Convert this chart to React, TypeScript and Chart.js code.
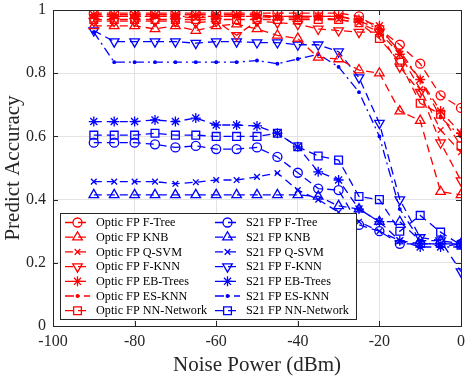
import React, { useEffect, useRef } from 'react';
import { Chart, registerables } from 'chart.js';
import { drawPoint } from 'chart.js/helpers';

Chart.register(...registerables);

// ---------- data ----------
const noisePower = [-90, -85, -80, -75, -70, -65, -60, -55, -50, -45, -40, -35, -30, -25, -20, -15, -10, -5, 0];

const opticFTree = [0.99, 0.99, 0.99, 0.99, 0.99, 0.99, 0.99, 0.99, 0.99, 0.99, 0.99, 0.99, 0.99, 0.98, 0.94, 0.89, 0.83, 0.73, 0.69];
const opticKNB = [0.95, 0.95, 0.95, 0.94, 0.95, 0.935, 0.95, 0.955, 0.94, 0.92, 0.91, 0.85, 0.845, 0.81, 0.8, 0.68, 0.65, 0.425, 0.415];
const opticQSVM = [0.98, 0.98, 0.98, 0.98, 0.98, 0.975, 0.98, 0.98, 0.98, 0.975, 0.975, 0.975, 0.97, 0.96, 0.93, 0.86, 0.75, 0.62, 0.55];
const opticFKNN = [0.965, 0.965, 0.965, 0.965, 0.965, 0.96, 0.965, 0.92, 0.965, 0.96, 0.955, 0.94, 0.935, 0.93, 0.93, 0.82, 0.74, 0.58, 0.46];
const opticEBTrees = [0.985, 0.985, 0.985, 0.985, 0.985, 0.985, 0.985, 0.985, 0.985, 0.98, 0.98, 0.98, 0.98, 0.97, 0.95, 0.86, 0.78, 0.68, 0.61];
const opticESKNN = [0.98, 0.98, 0.98, 0.98, 0.98, 0.98, 0.98, 0.98, 0.98, 0.98, 0.98, 0.98, 0.98, 0.965, 0.94, 0.87, 0.78, 0.66, 0.6];
const opticNNNetwork = [0.97, 0.97, 0.97, 0.97, 0.97, 0.97, 0.97, 0.97, 0.97, 0.97, 0.97, 0.97, 0.97, 0.96, 0.91, 0.835, 0.705, 0.67, 0.57];

const s21FTree = [0.58, 0.58, 0.58, 0.575, 0.565, 0.57, 0.56, 0.56, 0.565, 0.535, 0.485, 0.435, 0.43, 0.32, 0.3, 0.26, 0.26, 0.26, 0.26];
const s21KNB = [0.415, 0.415, 0.415, 0.415, 0.415, 0.415, 0.415, 0.415, 0.415, 0.415, 0.415, 0.41, 0.38, 0.37, 0.33, 0.33, 0.27, 0.27, 0.26];
const s21QSVM = [0.457, 0.457, 0.457, 0.457, 0.45, 0.455, 0.462, 0.462, 0.472, 0.484, 0.43, 0.4, 0.36, 0.33, 0.3, 0.27, 0.26, 0.26, 0.26];
const s21FKNN = [0.935, 0.9, 0.9, 0.9, 0.9, 0.895, 0.9, 0.9, 0.897, 0.897, 0.89, 0.89, 0.868, 0.786, 0.642, 0.4, 0.28, 0.27, 0.172];
const s21EBTrees = [0.647, 0.647, 0.647, 0.652, 0.647, 0.658, 0.636, 0.636, 0.633, 0.61, 0.567, 0.488, 0.462, 0.37, 0.33, 0.27, 0.25, 0.25, 0.26];
const s21ESKNN = [0.93, 0.835, 0.835, 0.835, 0.835, 0.835, 0.835, 0.835, 0.84, 0.83, 0.845, 0.86, 0.82, 0.74, 0.6, 0.37, 0.27, 0.25, 0.25];
const s21NNNetwork = [0.604, 0.604, 0.604, 0.61, 0.604, 0.604, 0.6, 0.6, 0.6, 0.61, 0.567, 0.538, 0.525, 0.41, 0.4, 0.3, 0.35, 0.297, 0.256];

const xTickValues = [-100, -80, -60, -40, -20, 0];
const yTickLabels = ['0', '0.2', '0.4', '0.6', '0.8', '1'];

const xTitle = 'Noise Power (dBm)';
const yTitle = 'Predict Accuracy';

const RED = '#ff0000';
const BLUE = '#0000ff';
const FONT = "'Liberation Serif', 'Times New Roman', serif";

type Style = { pointStyle: string; rotation?: number; radius: number; dash: number[]; fill?: boolean };

const styles: Style[] = [
  { pointStyle: 'circle', radius: 4.5, dash: [8, 5] },
  { pointStyle: 'triangle', radius: 5.5, dash: [8, 5] },
  { pointStyle: 'crossRot', radius: 4, dash: [8, 5] },
  { pointStyle: 'triangle', rotation: 180, radius: 5.5, dash: [8, 5] },
  { pointStyle: 'star', radius: 5, dash: [8, 5] },
  { pointStyle: 'circle', radius: 1.3, dash: [9, 4, 2, 4], fill: true },
  { pointStyle: 'rect', radius: 5.5, dash: [8, 5] },
];

const methodNames = ['F-Tree', 'KNB', 'Q-SVM', 'F-KNN', 'EB-Trees', 'ES-KNN', 'NN-Network'];
const opticSeries = [opticFTree, opticKNB, opticQSVM, opticFKNN, opticEBTrees, opticESKNN, opticNNNetwork];
const s21Series = [s21FTree, s21KNB, s21QSVM, s21FKNN, s21EBTrees, s21ESKNN, s21NNNetwork];

function makeDataset(label: string, values: number[], color: string, st: Style) {
  return {
    label,
    data: values.map((v, i) => ({ x: noisePower[i], y: v })),
    borderColor: color,
    backgroundColor: color,
    borderWidth: 1.3,
    borderDash: st.dash,
    pointStyle: st.pointStyle,
    pointRotation: st.rotation || 0,
    pointRadius: st.radius,
    pointBorderWidth: 1.3,
    pointBorderColor: color,
    pointBackgroundColor: st.fill ? color : 'rgba(0,0,0,0)',
    tension: 0,
    fill: false,
  };
}

const frameAndLegend = {
  id: 'frameAndLegend',
  afterDatasetsDraw(chart: any) {
    const ctx = chart.ctx as CanvasRenderingContext2D;
    const a = chart.chartArea;
    const xs = chart.scales.x;
    const ys = chart.scales.y;
    ctx.save();
    // frame
    ctx.setLineDash([]);
    ctx.strokeStyle = '#262626';
    ctx.lineWidth = 1;
    ctx.strokeRect(Math.round(a.left) + 0.5, Math.round(a.top) + 0.5, Math.round(a.right - a.left), Math.round(a.bottom - a.top));
    // inward ticks
    const tl = 5;
    ctx.beginPath();
    xTickValues.forEach((v) => {
      const px = Math.round(xs.getPixelForValue(v)) + 0.5;
      ctx.moveTo(px, a.bottom);
      ctx.lineTo(px, a.bottom - tl);
      ctx.moveTo(px, a.top);
      ctx.lineTo(px, a.top + tl);
    });
    yTickLabels.forEach((_, i) => {
      const py = Math.round(ys.getPixelForValue(i * 0.2)) + 0.5;
      ctx.moveTo(a.left, py);
      ctx.lineTo(a.left + tl, py);
      ctx.moveTo(a.right, py);
      ctx.lineTo(a.right - tl, py);
    });
    ctx.stroke();

    // legend box
    const bx = Math.round(a.left) + 7;
    const bw = 296;
    const bh = 106;
    const by = Math.round(a.bottom) - 7 - bh;
    ctx.fillStyle = '#ffffff';
    ctx.fillRect(bx, by, bw, bh);
    ctx.strokeStyle = '#262626';
    ctx.strokeRect(bx + 0.5, by + 0.5, bw, bh);

    ctx.font = `12.2px ${FONT}`;
    ctx.textBaseline = 'middle';
    ctx.textAlign = 'left';
    chart.data.datasets.forEach((ds: any, i: number) => {
      const col = i < 7 ? 0 : 1;
      const row = i % 7;
      const lx = bx + 5 + col * 150;
      const ly = by + 9.5 + row * 14.7;
      const st = styles[row];
      ctx.strokeStyle = ds.borderColor;
      ctx.lineWidth = 1.3;
      ctx.setLineDash(ds.borderDash);
      ctx.beginPath();
      ctx.moveTo(lx, ly);
      ctx.lineTo(lx + 25, ly);
      ctx.stroke();
      ctx.setLineDash([]);
      ctx.fillStyle = st.fill ? ds.borderColor : 'rgba(0,0,0,0)';
      drawPoint(ctx, { pointStyle: st.pointStyle as any, rotation: st.rotation || 0, radius: st.radius, borderWidth: 1.3 } as any, lx + 12.5, ly);
      ctx.fillStyle = '#000000';
      ctx.fillText(ds.label, lx + 31, ly + 0.5);
    });
    ctx.restore();
  },
};

export default function App() {
  const canvasRef = useRef<HTMLCanvasElement | null>(null);

  useEffect(() => {
    document.body.style.margin = '0';
    const canvas = canvasRef.current;
    if (!canvas) return;
    const datasets = [
      ...opticSeries.map((vals, i) => makeDataset(`Optic FP ${methodNames[i]}`, vals, RED, styles[i])),
      ...s21Series.map((vals, i) => makeDataset(`S21 FP ${methodNames[i]}`, vals, BLUE, styles[i])),
    ];
    datasets.forEach((d: any, i: number) => {
      d.order = i < 7 ? 0 : 1;
    });
    const chart = new Chart(canvas, {
      type: 'line',
      data: { datasets: datasets as any },
      plugins: [frameAndLegend],
      options: {
        responsive: false,
        animation: false,
        devicePixelRatio: 1,
        layout: { padding: { top: 10, right: 10, left: 0, bottom: 0 } },
        plugins: { legend: { display: false }, tooltip: { enabled: false } },
        scales: {
          x: {
            type: 'linear',
            min: -100,
            max: 0,
            afterBuildTicks: (s: any) => {
              s.ticks = xTickValues.map((v) => ({ value: v }));
            },
            afterFit: (s: any) => {
              s.height = 53;
              s.paddingLeft = 0;
              s.paddingRight = 0;
            },
            ticks: {
              font: { family: FONT, size: 16 },
              color: '#262626',
              padding: 6,
              maxRotation: 0,
              callback: (v: any) => String(v),
            },
            grid: { color: '#e3e3e3', drawTicks: false },
            border: { display: false },
            title: {
              display: true,
              text: xTitle,
              font: { family: FONT, size: 21 },
              color: '#262626',
              padding: { top: 0, bottom: 1 },
            },
          },
          y: {
            min: 0,
            max: 1,
            afterBuildTicks: (s: any) => {
              s.ticks = yTickLabels.map((_, i) => ({ value: i * 0.2 }));
            },
            afterFit: (s: any) => {
              s.width = 53;
              s.paddingTop = 0;
              s.paddingBottom = 0;
            },
            ticks: {
              font: { family: FONT, size: 16 },
              color: '#262626',
              padding: 7,
              callback: (v: any) => yTickLabels[Math.round(Number(v) * 5)],
            },
            grid: { color: '#e3e3e3', drawTicks: false },
            border: { display: false },
            title: {
              display: true,
              text: yTitle,
              font: { family: FONT, size: 21 },
              color: '#262626',
              padding: { top: 1, bottom: 1 },
            },
          },
        },
      } as any,
    });
    return () => chart.destroy();
  }, []);

  return (
    <div style={{ width: 471, height: 379 }}>
      <canvas ref={canvasRef} width={471} height={379} style={{ display: 'block' }} />
    </div>
  );
}
